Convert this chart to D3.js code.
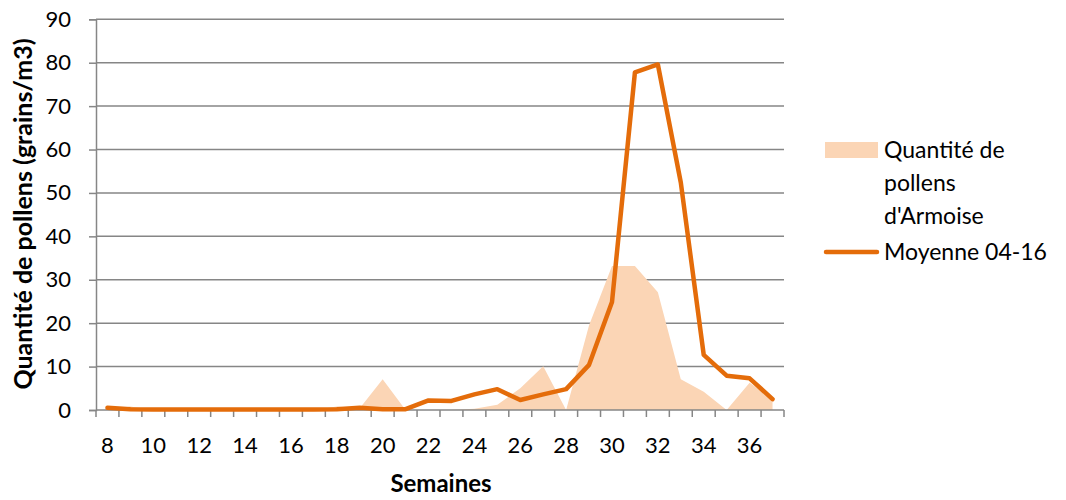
<!DOCTYPE html>
<html>
<head>
<meta charset="utf-8">
<script src="https://cdn.jsdelivr.net/npm/d3@7"></script>
<style>
  body { margin: 0; background: #fff; }
  svg text { font-family: Lato, "Open Sans", sans-serif; fill: #000; }
</style>
</head>
<body>
<script>
// weeks 8..37
const weeks = d3.range(8, 38);
const quantite = [0, 0.8, 0, 0, 0, 0, 0, 0, 0, 0, 0.8, 0.4, 7.1, 0, 0, 0, 0.3, 1.2, 5, 10.1, 0, 19.5, 33.2, 33.2, 27.1, 7.1, 4.2, 0, 6.3, 2.5];
const moyenne = [0.5, 0.2, 0.1, 0.1, 0.1, 0.1, 0.1, 0.1, 0.1, 0.1, 0.2, 0.5, 0.2, 0.2, 2.2, 2.1, 3.6, 4.8, 2.3, 3.6, 4.8, 10.4, 24.9, 77.8, 79.6, 52.4, 12.7, 7.9, 7.3, 2.5];
const yTicks = d3.range(0, 100, 10);
const xLabels = d3.range(8, 38, 2);

const width = 1066, height = 500;
const plotLeft = 96, plotRight = 784, plotTop = 19.3, plotBottom = 410;

const svg = d3.select("body").append("svg")
    .attr("width", width)
    .attr("height", height);

const x = d3.scaleBand().domain(weeks).range([plotLeft, plotRight]).padding(0);
const y = d3.scaleLinear().domain([0, 90]).range([plotBottom, plotTop]);
const cx = d => x(d) + x.bandwidth() / 2;

// gridlines + y axis
const yAxis = svg.append("g")
    .attr("transform", `translate(${plotLeft},0)`)
    .call(d3.axisLeft(y).tickValues(yTicks).tickSize(7).tickPadding(18).tickFormat(d3.format("d")));
yAxis.select(".domain").attr("stroke", "#868686").attr("stroke-width", 1.5);
yAxis.selectAll(".tick line").attr("stroke", "#868686").attr("stroke-width", 1.5);
yAxis.selectAll(".tick text").style("font-size", "22px").attr("font-family", null);

svg.append("g").selectAll("line")
    .data(yTicks.filter(d => d > 0))
    .join("line")
    .attr("x1", plotLeft).attr("x2", plotRight)
    .attr("y1", d => y(d)).attr("y2", d => y(d))
    .attr("stroke", "#868686").attr("stroke-width", 1.5);

// area
const rowsQ = weeks.map((w, i) => ({ w: w, v: quantite[i] }));
svg.append("path")
    .datum(rowsQ)
    .attr("fill", "#FBD5B5")
    .attr("d", d3.area().x(d => cx(d.w)).y0(y(0)).y1(d => y(d.v)));

// x axis
const xAxis = svg.append("g")
    .attr("transform", `translate(0,${plotBottom})`)
    .call(d3.axisBottom(x).tickValues(xLabels).tickSize(0).tickPadding(27));
xAxis.select(".domain").remove();
xAxis.selectAll(".tick text").style("font-size", "22px").attr("font-family", null);

svg.append("line")
    .attr("x1", plotLeft).attr("x2", plotRight)
    .attr("y1", plotBottom).attr("y2", plotBottom)
    .attr("stroke", "#868686").attr("stroke-width", 1.5);

svg.append("g").selectAll("line")
    .data(weeks.concat([38]))
    .join("line")
    .attr("x1", d => d === 38 ? plotRight : x(d))
    .attr("x2", d => d === 38 ? plotRight : x(d))
    .attr("y1", plotBottom).attr("y2", plotBottom + 7)
    .attr("stroke", "#868686").attr("stroke-width", 1.5);

// line
const rowsM = weeks.map((w, i) => ({ w: w, v: moyenne[i] }));
svg.append("path")
    .datum(rowsM)
    .attr("fill", "none")
    .attr("stroke", "#E46C0A")
    .attr("stroke-width", 4.5)
    .attr("stroke-linejoin", "round")
    .attr("stroke-linecap", "round")
    .attr("d", d3.line().x(d => cx(d.w)).y(d => y(d.v)));

// axis titles
svg.append("text")
    .attr("x", 441)
    .attr("y", 492)
    .attr("text-anchor", "middle")
    .style("font-size", "24px")
    .style("font-weight", "bold")
    .text("Semaines");

svg.append("text")
    .attr("transform", "translate(32,214) rotate(-90)")
    .attr("text-anchor", "middle")
    .style("font-size", "25px")
    .style("font-weight", "bold")
    .text("Quantité de pollens (grains/m3)");

// legend
const legend = svg.append("g");
legend.append("rect")
    .attr("x", 825).attr("y", 142)
    .attr("width", 53).attr("height", 16)
    .attr("fill", "#FBD5B5");
["Quantité de", "pollens", "d'Armoise"].forEach((t, i) => {
    legend.append("text")
        .attr("x", 884).attr("y", 158 + i * 33)
        .style("font-size", "23px")
        .text(t);
});
legend.append("line")
    .attr("x1", 826).attr("x2", 877)
    .attr("y1", 252).attr("y2", 252)
    .attr("stroke", "#E46C0A").attr("stroke-width", 4.5)
    .attr("stroke-linecap", "round");
legend.append("text")
    .attr("x", 884).attr("y", 260)
    .style("font-size", "23px")
    .text("Moyenne 04-16");
</script>
</body>
</html>
